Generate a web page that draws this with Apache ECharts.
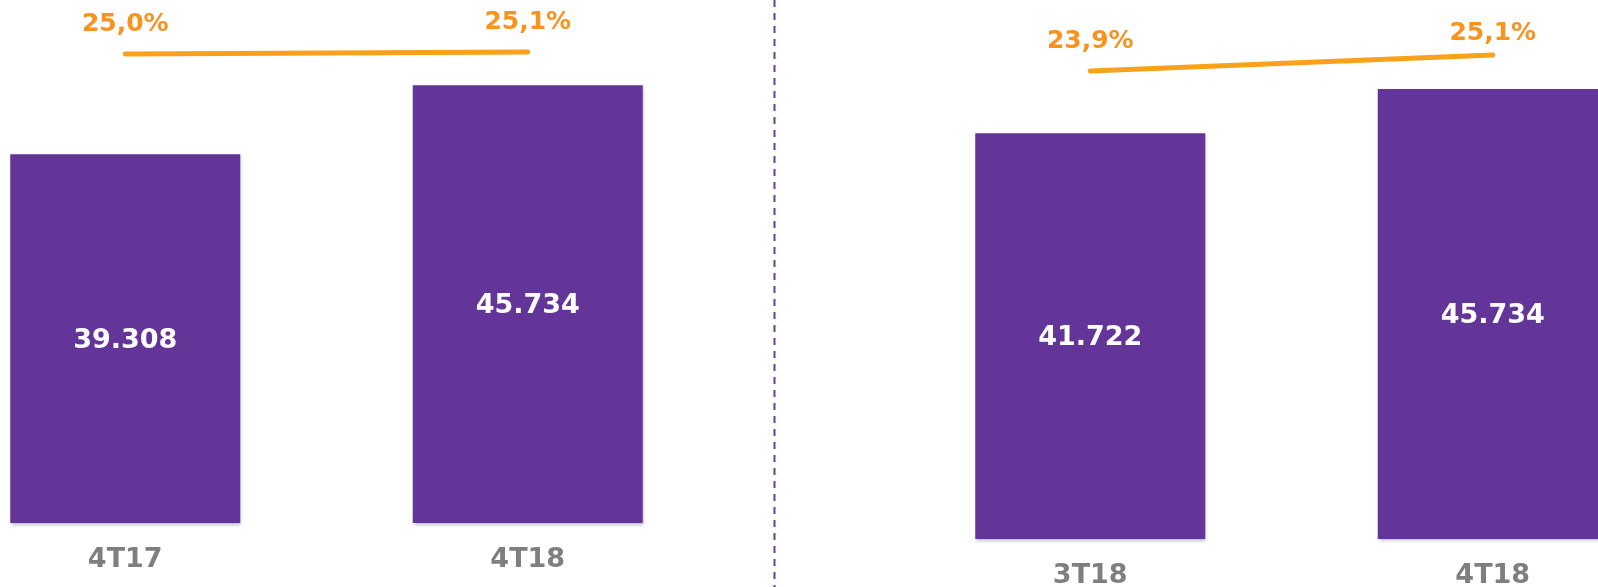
<!DOCTYPE html>
<html>
<head>
<meta charset="utf-8">
<title>4T17 x 4T18 | 3T18 x 4T18</title>
<script src="https://cdn.jsdelivr.net/npm/echarts@6/dist/echarts.min.js"></script>
<style>
    html, body { margin: 0; padding: 0; background: #fff; }
    #chart { width: 1598px; height: 587px; }
</style>
</head>
<body>
<div id="chart"></div>
<script>
// valores
const leftCategories = ['4T17', '4T18']
const leftValues = [39308, 45734]
const leftRates = [25.0, 25.1]

const rightCategories = ['3T18', '4T18']
const rightValues = [41722, 45734]
const rightRates = [23.9, 25.1]

const PURPLE = '#633599'
const ORANGE_LINE = '#F9A11B'
const ORANGE_TEXT = '#F7931E'
const GRAY = '#7F7F7F'
const FONT = '"DejaVu Sans", Verdana, sans-serif'

// 39308 -> 39.308
const fmtValue = v => String(v).replace(/\B(?=(\d{3})+(?!\d))/g, '.')
// 25.0 -> 25,0%
const fmtRate = v => v.toFixed(1).replace('.', ',') + '%'

const catAxis = (gridIndex, data) => ({
    type: 'category',
    gridIndex,
    data,
    axisLine: { show: false },
    axisTick: { show: false },
    axisLabel: {
        margin: 23,
        color: GRAY,
        fontFamily: FONT,
        fontWeight: 'bold',
        fontSize: 27
    }
})

const hiddenAxis = (gridIndex, min, max) => ({
    type: 'value',
    gridIndex,
    min,
    max,
    show: false,
    splitLine: { show: false }
})

const barSeries = (xAxisIndex, yAxisIndex, data) => ({
    type: 'bar',
    xAxisIndex,
    yAxisIndex,
    data,
    barWidth: 230,
    itemStyle: {
        color: PURPLE,
        shadowColor: 'rgba(0,0,0,0.25)',
        shadowBlur: 3,
        shadowOffsetX: 1,
        shadowOffsetY: 2
    },
    label: {
        show: true,
        position: 'inside',
        offset: [0, 2],
        color: '#fff',
        fontFamily: FONT,
        fontWeight: 'bold',
        fontSize: 27,
        formatter: p => fmtValue(p.value)
    }
})

// distances: afastamento de cada rótulo acima do ponto
const lineSeries = (xAxisIndex, yAxisIndex, data, distances) => ({
    type: 'line',
    xAxisIndex,
    yAxisIndex,
    data: data.map((v, i) => ({ value: v, label: { distance: distances[i] } })),
    symbol: 'circle',
    symbolSize: 2,
    itemStyle: { color: ORANGE_LINE },
    lineStyle: { color: ORANGE_LINE, width: 5, cap: 'round' },
    label: {
        show: true,
        position: 'top',
        color: ORANGE_TEXT,
        fontFamily: FONT,
        fontWeight: 'bold',
        fontSize: 25,
        formatter: p => fmtRate(p.value)
    },
    z: 3
})

const chart = echarts.init(document.getElementById('chart'))

chart.setOption({
    animation: false,
    backgroundColor: '#fff',
    grid: [
        { left: -76, width: 805, top: 0, bottom: 64, outerBoundsMode: 'none' },
        { left: 889, width: 805, top: 0, bottom: 48, outerBoundsMode: 'none' }
    ],
    xAxis: [
        catAxis(0, leftCategories),
        catAxis(1, rightCategories)
    ],
    yAxis: [
        hiddenAxis(0, 5000, 53675),
        hiddenAxis(0, 1.55, 27.7),
        hiddenAxis(1, 5000, 53780),
        hiddenAxis(1, -11.23, 29.22)
    ],
    series: [
        barSeries(0, 0, leftValues),
        lineSeries(0, 1, leftRates, [16, 16]),
        barSeries(1, 2, rightValues),
        lineSeries(1, 3, rightRates, [16, 8])
    ],
    // linha tracejada separando os dois quadros
    graphic: [{
        type: 'line',
        shape: { x1: 774.5, y1: 0, x2: 774.5, y2: 587 },
        style: { stroke: '#6A3D9A', lineWidth: 2, lineDash: [7, 6] },
        silent: true
    }]
})
</script>
</body>
</html>
